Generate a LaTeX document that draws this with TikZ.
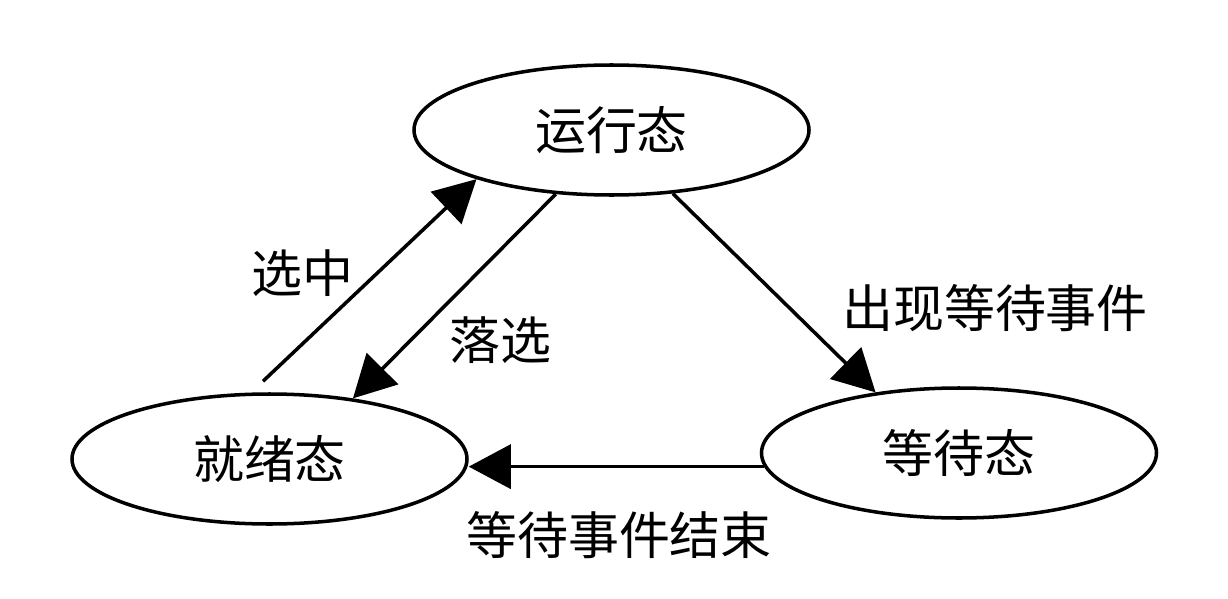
\documentclass[tikz,border=0pt]{standalone}
\usepackage{fontspec}
\newfontfamily\cjk{Noto Sans CJK SC}
\usepackage{tikz}
\usetikzlibrary{shapes.geometric, positioning, arrows.meta}

\tikzset{
    state/.style={ellipse, draw, line width=2pt, inner sep=0pt,
        minimum width=7.9cm, minimum height=2.6cm,
        font=\cjk\fontsize{29}{34}\selectfont},
    lbl/.style={inner sep=0pt, font=\cjk\fontsize{29}{34}\selectfont},
    trans/.style={line width=2pt, -{Triangle[length=0.84cm,width=0.88cm]}}
}

\begin{document}
\begin{tikzpicture}
            \useasboundingbox (0,0) rectangle (24.56,-11.98);

            % States
            \node[state] (run) at (12.23,-2.60) {运行态};
            \node[state] (ready) at (5.39,-9.18) {就绪态};
            \node[state] (wait) at (19.18,-9.06) {等待态};

            % Transitions
            \draw[trans] ([shift={(-0.13,0.22)}]ready.north) -- (run.200);
            \draw[trans] (run.229) -- (ready.36);
            \draw[trans] (run.314) -- (wait.144);
            \draw[trans] (wait.184) -- (wait.184 -| ready.east);

            % Labels
            \node[lbl] (xz) at (6.04,-5.46) {选中};
            \node[lbl] (lx) at (10.00,-6.80) {落选};
            \node[lbl] (cx) at (19.90,-6.16) {出现等待事件};
            \node[lbl] (js) at (12.38,-10.70) {等待事件结束};
\end{tikzpicture}
\end{document}
